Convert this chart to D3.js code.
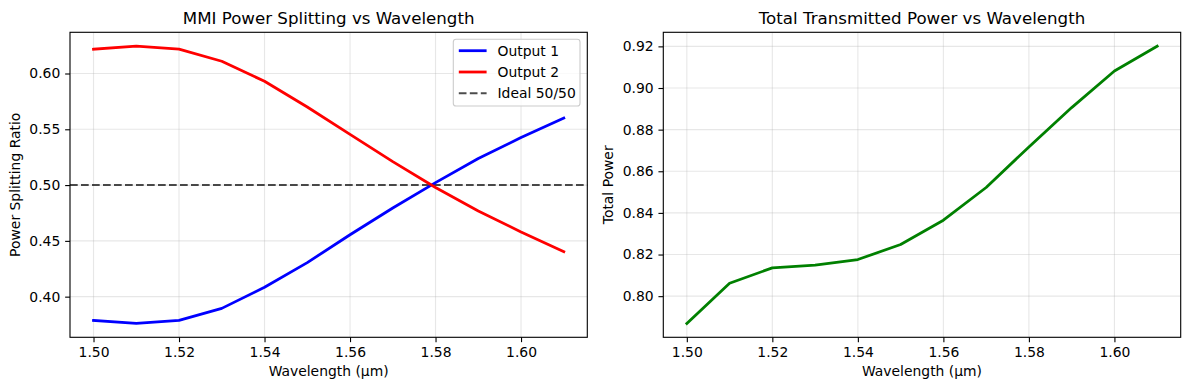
<!DOCTYPE html>
<html><head><meta charset="utf-8">
<script src="https://cdn.jsdelivr.net/npm/d3@7/dist/d3.min.js"></script>
<style>
body{margin:0;background:#fff;}
svg{display:block;font-family:"DejaVu Sans",sans-serif;}
</style></head>
<body><svg id="c" width="1189" height="390"></svg>
<script>
const wavelength = [1.50,1.51,1.52,1.53,1.54,1.55,1.56,1.57,1.58,1.59,1.60,1.61];
const output1 = [0.3787,0.3760,0.3787,0.3895,0.4084,0.4305,0.4555,0.4795,0.5022,0.5238,0.5426,0.5600];
const output2 = [0.6218,0.6245,0.6218,0.6110,0.5930,0.5700,0.5455,0.5210,0.4978,0.4768,0.4580,0.4404];
const totalPower = [0.7869,0.8062,0.8136,0.8149,0.8176,0.8248,0.8365,0.8522,0.8717,0.8906,0.9082,0.9201];
const xTicks = [1.50,1.52,1.54,1.56,1.58,1.60];
const yTicksLeft = [0.40,0.45,0.50,0.55,0.60];
const yTicksRight = [0.80,0.82,0.84,0.86,0.88,0.90,0.92];
const legendLabels = ["Output 1","Output 2","Ideal 50/50"];
const titles = ["MMI Power Splitting vs Wavelength","Total Transmitted Power vs Wavelength"];
const yLabels = ["Power Splitting Ratio","Total Power"];
const xLabel = "Wavelength (µm)";

const svg = d3.select("#c");
const yTop = 32.3, yBottom = 337.3;
const tickLen = 4.86, tickPad = 4.86;
const FS = 13.9;

function pad(ext){ const r = ext[1]-ext[0]; return [ext[0]-0.05*r, ext[1]+0.05*r]; }

function panel(left, right, yDomain, yTicks, title, yLabel, yFmt){
  const x = d3.scaleLinear().domain(pad(d3.extent(wavelength))).range([left,right]);
  const y = d3.scaleLinear().domain(yDomain).range([yBottom, yTop]);
  const g = svg.append("g");
  g.append("g").selectAll("line").data(xTicks).join("line")
    .attr("x1",d=>x(d)).attr("x2",d=>x(d)).attr("y1",yTop).attr("y2",yBottom)
    .attr("stroke","#b0b0b0").attr("stroke-opacity",0.3).attr("stroke-width",1.11);
  g.append("g").selectAll("line").data(yTicks).join("line")
    .attr("y1",d=>y(d)).attr("y2",d=>y(d)).attr("x1",left).attr("x2",right)
    .attr("stroke","#b0b0b0").attr("stroke-opacity",0.3).attr("stroke-width",1.11);
  const xa = g.append("g").attr("transform",`translate(0,${yBottom})`)
    .call(d3.axisBottom(x).tickValues(xTicks).tickFormat(d3.format(".2f")).tickSize(tickLen).tickPadding(tickPad));
  const ya = g.append("g").attr("transform",`translate(${left},0)`)
    .call(d3.axisLeft(y).tickValues(yTicks).tickFormat(d3.format(yFmt)).tickSize(tickLen).tickPadding(tickPad));
  [xa,ya].forEach(a=>{
    a.select(".domain").remove();
    a.selectAll(".tick line").attr("stroke","#000").attr("stroke-width",1.11);
    a.selectAll(".tick text").attr("font-size",FS).attr("fill","#000").attr("font-family","DejaVu Sans");
  });
  g.append("text").attr("x",(left+right)/2).attr("y",yTop-8.6).attr("text-anchor","middle")
    .attr("font-size",16.67).attr("fill","#000").text(title);
  g.append("text").attr("x",(left+right)/2).attr("y",376).attr("text-anchor","middle")
    .attr("font-size",FS).attr("fill","#000").text(xLabel);
  g.append("text").attr("transform",`translate(${left-50},${(yTop+yBottom)/2}) rotate(-90)`)
    .attr("text-anchor","middle").attr("font-size",FS).attr("fill","#000").text(yLabel);
  return {x,y,g};
}

// left panel
const L = panel(70, 587.3, pad([d3.min(output1), d3.max(output2)]), yTicksLeft, titles[0], yLabels[0], ".2f");
const lineL = d3.line().x((d,i)=>L.x(wavelength[i])).y(d=>L.y(d));
L.g.append("line").attr("x1",70).attr("x2",587.3).attr("y1",L.y(0.5)).attr("y2",L.y(0.5))
  .attr("stroke","#000").attr("stroke-opacity",0.7).attr("stroke-width",2.08).attr("stroke-dasharray","7.7,3.3");
L.g.append("path").datum(output1).attr("d",lineL).attr("fill","none").attr("stroke","#0000ff").attr("stroke-width",2.78).attr("stroke-linejoin","round").attr("stroke-linecap","square");
L.g.append("path").datum(output2).attr("d",lineL).attr("fill","none").attr("stroke","#ff0000").attr("stroke-width",2.78).attr("stroke-linejoin","round").attr("stroke-linecap","square");
L.g.append("rect").attr("x",70).attr("y",yTop).attr("width",587.3-70).attr("height",yBottom-yTop)
  .attr("fill","none").attr("stroke","#000").attr("stroke-width",1.11);

// legend
const lg = L.g.append("g");
lg.append("rect").attr("x",453.3).attr("y",39.3).attr("width",126.7).attr("height",66.7).attr("rx",2.8)
  .attr("fill","#fff").attr("fill-opacity",0.8).attr("stroke","#cccccc").attr("stroke-width",1.11);
const legStyles = [
  {c:"#0000ff",w:2.78,dash:null,op:1},
  {c:"#ff0000",w:2.78,dash:null,op:1},
  {c:"#000",w:2.08,dash:"7.7,3.3",op:0.7}
];
legendLabels.forEach((t,i)=>{
  const yy = 50.7 + i*21.3;
  const s = legStyles[i];
  const ln = lg.append("line").attr("x1",458.8).attr("x2",486.6).attr("y1",yy).attr("y2",yy)
    .attr("stroke",s.c).attr("stroke-width",s.w).attr("stroke-opacity",s.op);
  if(s.dash) ln.attr("stroke-dasharray",s.dash);
  lg.append("text").attr("x",497.5).attr("y",yy+5).attr("font-size",FS).attr("fill","#000").text(t);
});

// right panel
const R = panel(663.3, 1180.7, pad(d3.extent(totalPower)), yTicksRight, titles[1], yLabels[1], ".2f");
const lineR = d3.line().x((d,i)=>R.x(wavelength[i])).y(d=>R.y(d));
R.g.append("path").datum(totalPower).attr("d",lineR).attr("fill","none").attr("stroke","#008000").attr("stroke-width",2.78).attr("stroke-linejoin","round").attr("stroke-linecap","square");
R.g.append("rect").attr("x",663.3).attr("y",yTop).attr("width",1180.7-663.3).attr("height",yBottom-yTop)
  .attr("fill","none").attr("stroke","#000").attr("stroke-width",1.11);
</script></body></html>
